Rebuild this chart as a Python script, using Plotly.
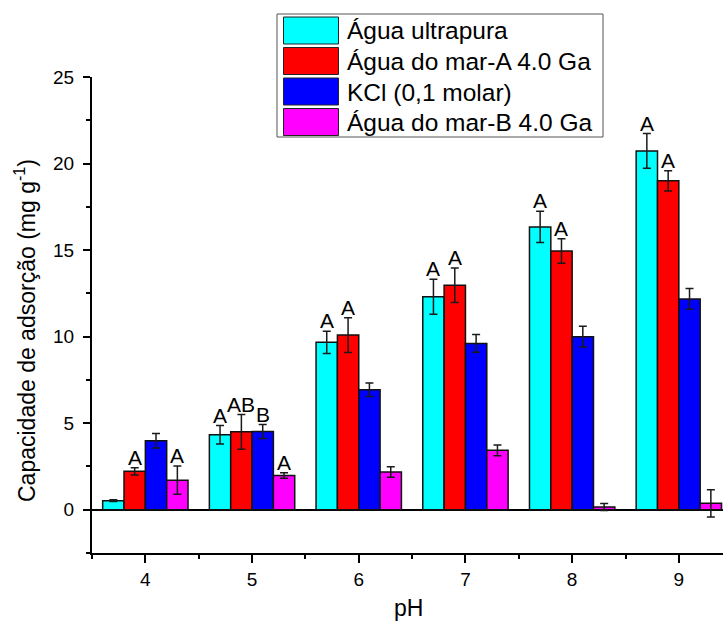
import plotly.graph_objects as go

# pH values and adsorption capacity (mg g-1) per medium
ph = [4, 5, 6, 7, 8, 9]
series_names = ["Água ultrapura", "Água do mar-A 4.0 Ga", "KCl (0,1 molar)", "Água do mar-B 4.0 Ga"]
colors = ["#00FFFF", "#FF0000", "#0000FF", "#FF00FF"]

ultrapura = [0.52, 4.33, 9.67, 12.30, 16.34, 20.73]
mar_a = [2.22, 4.50, 10.09, 12.97, 14.95, 19.00]
kcl = [3.98, 4.52, 6.93, 9.61, 10.00, 12.18]
mar_b = [1.71, 1.98, 2.18, 3.43, 0.16, 0.37]

ultrapura_err = [0.05, 0.53, 0.64, 1.01, 0.90, 1.00]
mar_a_err = [0.21, 1.00, 1.00, 1.00, 0.71, 0.59]
kcl_err = [0.42, 0.40, 0.39, 0.51, 0.60, 0.60]
mar_b_err = [0.82, 0.16, 0.30, 0.31, 0.20, 0.79]

# Statistical letters per series and pH ("" = none)
letters_ultrapura = ["", "A", "A", "A", "A", "A"]
letters_mar_a = ["A", "AB", "A", "A", "A", "A"]
letters_kcl = ["", "B", "", "", "", ""]
letters_mar_b = ["A", "A", "", "", "", ""]

values = [ultrapura, mar_a, kcl, mar_b]
errors = [ultrapura_err, mar_a_err, kcl_err, mar_b_err]
letters = [letters_ultrapura, letters_mar_a, letters_kcl, letters_mar_b]

FONT = "Liberation Sans, Arial, sans-serif"
W, H = 723, 626
ML, MR, MT, MB = 92, 0, 77, 73
PW, PH = W - ML - MR, H - MT - MB

fig = go.Figure()
for name, col, vals, errs in zip(series_names, colors, values, errors):
    fig.add_trace(go.Bar(
        x=ph, y=vals, name=name,
        marker=dict(color=col, line=dict(color="#111111", width=1.5)),
        error_y=dict(type="data", array=errs, visible=True,
                     color="#1a1a1a", thickness=1.5, width=4),
        showlegend=False,
    ))

# group offsets for 4 bars in a 0.8-wide group
n = len(series_names)
bw = 0.8 / n
offsets = [(-0.4 + bw / 2 + i * bw) for i in range(n)]

annotations = []
for i in range(n):
    for j, p in enumerate(ph):
        lab = letters[i][j]
        if lab:
            annotations.append(dict(
                x=p + offsets[i], y=values[i][j] + errors[i][j],
                xref="x", yref="y", text=lab, showarrow=False,
                yanchor="bottom", yshift=-3,
                font=dict(family=FONT, size=21, color="black"),
            ))

def px_x(px):
    return (px - ML) / PW

def px_y(py):
    return (H - MB - py) / PH

# axis titles
annotations.append(dict(
    x=px_x(25), y=px_y(331), xref="paper", yref="paper",
    text="Capacidade de adsorção (mg g<sup>-1</sup>)", textangle=-90,
    showarrow=False, xanchor="center", yanchor="middle",
    font=dict(family=FONT, size=23, color="black"),
))
annotations.append(dict(
    x=px_x(408), y=px_y(608), xref="paper", yref="paper",
    text="pH", showarrow=False, xanchor="center", yanchor="middle",
    font=dict(family=FONT, size=23, color="black"),
))

# legend box with large swatches
shapes = [dict(type="rect", xref="paper", yref="paper",
               x0=px_x(277), x1=px_x(603), y0=px_y(137), y1=px_y(14),
               line=dict(color="#555555", width=1), fillcolor="white")]
row_tops = [17, 47.5, 78, 108.5]
for name, col, top in zip(series_names, colors, row_tops):
    shapes.append(dict(type="rect", xref="paper", yref="paper",
                       x0=px_x(283.5), x1=px_x(338.5), y0=px_y(top + 27), y1=px_y(top),
                       line=dict(color="#222222", width=1), fillcolor=col))
    annotations.append(dict(
        x=px_x(345), y=px_y(top + 14), xref="paper", yref="paper",
        text=name, showarrow=False, xanchor="left", yanchor="middle",
        font=dict(family=FONT, size=24.5, color="black"),
    ))

fig.update_layout(
    width=W, height=H,
    margin=dict(l=ML, r=MR, t=MT, b=MB, pad=0),
    paper_bgcolor="white", plot_bgcolor="white",
    barmode="group", bargap=0.2, bargroupgap=0,
    font=dict(family=FONT, size=19, color="black"),
    annotations=annotations, shapes=shapes,
    xaxis=dict(
        range=[3.5, 3.5 + PW / 106.7],
        tickmode="array", tickvals=ph, ticktext=[str(v) for v in ph],
        ticks="outside", ticklen=8, tickwidth=2, tickcolor="black",
        minor=dict(tick0=3.5, dtick=0.5, ticks="outside", ticklen=4,
                   tickwidth=2, tickcolor="black"),
        showline=True, linecolor="black", linewidth=2,
        showgrid=False, zeroline=False,
        tickfont=dict(family=FONT, size=19), ticklabelstandoff=0,
    ),
    yaxis=dict(
        range=[-2.5, 25], tick0=0, dtick=5,
        ticks="outside", ticklen=7, tickwidth=2, tickcolor="black",
        minor=dict(tick0=-2.5, dtick=2.5, ticks="outside", ticklen=4,
                   tickwidth=2, tickcolor="black"),
        showline=True, linecolor="black", linewidth=2,
        showgrid=False, zeroline=True, zerolinecolor="black", zerolinewidth=2,
        tickfont=dict(family=FONT, size=19), ticklabelstandoff=5,
    ),
)

fig.write_html("out.html")
